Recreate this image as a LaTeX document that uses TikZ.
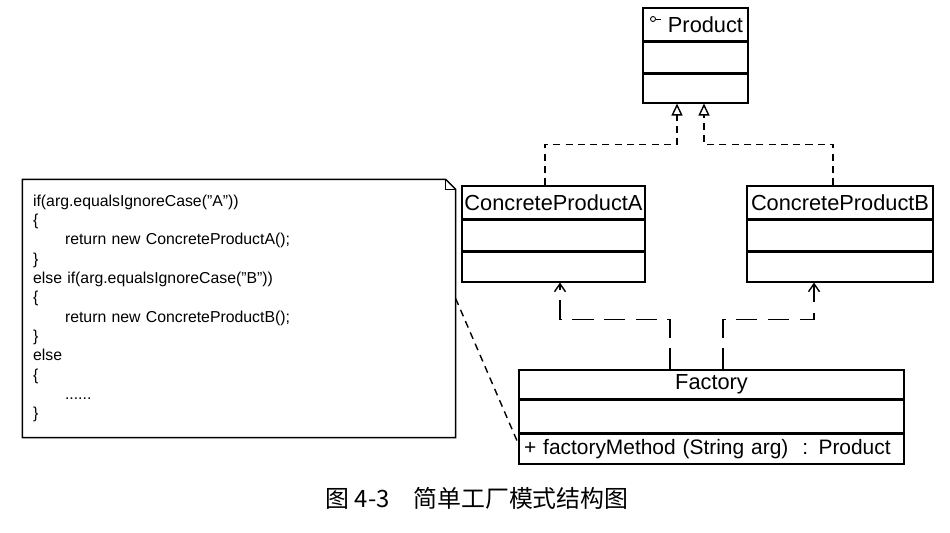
\documentclass[tikz,border=0pt]{standalone}
\usepackage{fontspec}
\setmainfont{Liberation Sans}
\newfontfamily\cjkfont{Noto Sans CJK SC}
\usetikzlibrary{positioning,arrows.meta}

\begin{document}
\begin{tikzpicture}[x=0.02cm, y=-0.02cm, line width=0.8pt,
	classhead/.style={draw, minimum height=0.66cm, inner sep=0pt, font=\fontsize{12.4}{14}\selectfont},
	classpart/.style={draw, minimum height=0.6cm, inner sep=0pt},
	notebox/.style={minimum width=8.64cm, minimum height=5.14cm, inner xsep=0.2cm, text width=8.24cm, align=left, font=\fontsize{9}{11}\selectfont},
	realize/.style={dash pattern=on 4pt off 3pt, -{Triangle[open, length=0.24cm, width=0.22cm]}},
	depend/.style={dash pattern=on 12pt off 6pt, -{Straight Barb[length=0.16cm, width=0.22cm]}},
	anchorline/.style={dash pattern=on 4pt off 3pt}]

	\useasboundingbox (0,0) rectangle (950,532);

	\node [classhead, minimum width=2.1cm] (prod) at (695.5,24.5) {\hspace{0.4cm}Product};
	\node [classpart, minimum width=2.1cm, below=0pt of prod] (prodb) {};
	\node [classpart, minimum width=2.1cm, minimum height=0.58cm, below=0pt of prodb] (prodc) {};
	\draw [line width=0.5pt] (653,19) circle (2.5);
	\draw [line width=0.5pt] (655.5,19) -- (661,19);

	\node [classhead, minimum width=3.66cm] (cpa) at (553.5,202.5) {ConcreteProductA};
	\node [classpart, minimum width=3.66cm, below=0pt of cpa] (cpab) {};
	\node [classpart, minimum width=3.66cm, below=0pt of cpab] (cpac) {};

	\node [classhead, minimum width=3.72cm] (cpb) at (840,202.5) {ConcreteProductB};
	\node [classpart, minimum width=3.72cm, below=0pt of cpb] (cpbb) {};
	\node [classpart, minimum width=3.72cm, below=0pt of cpbb] (cpbc) {};

	\node [classhead, minimum width=7.7cm, minimum height=0.58cm] (fac) at (711.5,384.5) {Factory};
	\node [classpart, minimum width=7.7cm, minimum height=0.64cm, below=0pt of fac] (facb) {};
	\node [classpart, minimum width=7.7cm, below=0pt of facb, text width=7.5cm, align=left, font=\fontsize{11.9}{14}\selectfont] (facc) {+ factoryMethod (String arg)~ : Product};

	\node [notebox] (note) at (239,308.5) {if(arg.equalsIgnoreCase("A"))\\
		\{\\
		\hspace*{0.64cm}return new ConcreteProductA();\\
		\}\\
		else if(arg.equalsIgnoreCase("B"))\\
		\{\\
		\hspace*{0.64cm}return new ConcreteProductB();\\
		\}\\
		else\\
		\{\\
		\hspace*{0.64cm}......\\
		\}};
	\draw (note.north west) -- ([xshift=-0.2cm]note.north east) -- ([yshift=-0.2cm]note.north east) -- (note.south east) -- (note.south west) -- cycle;
	\draw ([xshift=-0.2cm]note.north east) -- ([xshift=-0.2cm, yshift=-0.2cm]note.north east) -- ([yshift=-0.2cm]note.north east);

	\draw [realize] ([xshift=-0.17cm]cpa.north) -- ++(0,0.82cm) -| ([xshift=-0.37cm]prodc.south);
	\draw [realize] ([xshift=-0.14cm]cpb.north) -- ++(0,0.82cm) -| ([xshift=0.17cm]prodc.south);

	\draw [depend] ([xshift=-0.83cm]fac.north) -- ++(0,1cm) -| ([xshift=0.13cm]cpac.south);
	\draw [depend] ([xshift=0.23cm]fac.north) -- ++(0,1cm) -| ([xshift=-0.52cm]cpbc.south);

	\draw [anchorline] ([yshift=0.2cm]note.east) -- ([yshift=0.1cm]facc.west);

	\node [font=\cjkfont\fontsize{13.6}{16}\selectfont] (cap) at (477,498) {图 4-3\quad 简单工厂模式结构图};

\end{tikzpicture}
\end{document}
